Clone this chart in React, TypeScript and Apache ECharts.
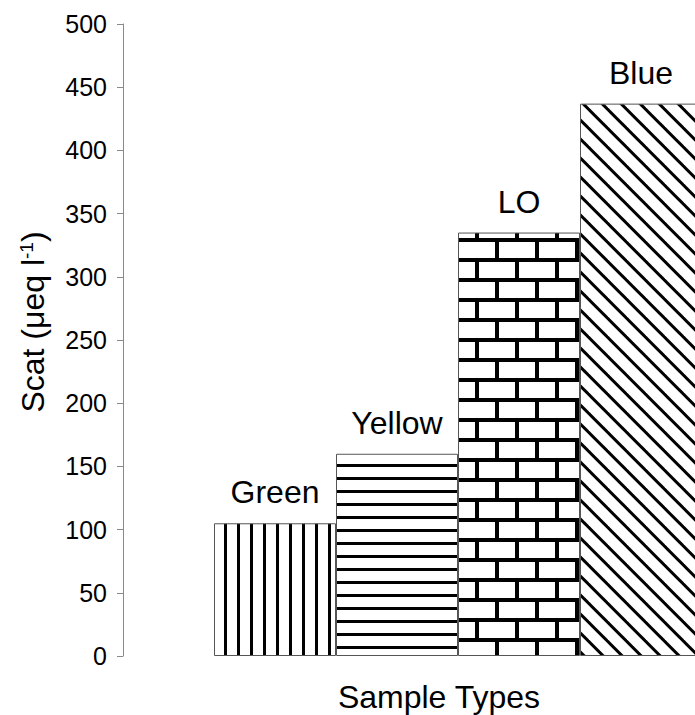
import React, { useEffect, useRef } from 'react';
import * as echarts from 'echarts';

const categories = ['Green', 'Yellow', 'LO', 'Blue'];
const values = [105, 160, 335, 437];
const yMin = 0;
const yMax = 500;
const yInterval = 50;
const xTitle = 'Sample Types';
const yTitleMain = 'Scat (μeq l';
const yTitleSup = '-1';
const yTitleEnd = ')';

const FONT = "'Liberation Sans', Arial, sans-serif";

type Drawer = (ctx: CanvasRenderingContext2D) => void;

function makeTile(w: number, h: number, draw: Drawer) {
  const c = document.createElement('canvas');
  c.width = w;
  c.height = h;
  const ctx = c.getContext('2d')!;
  ctx.fillStyle = '#fff';
  ctx.fillRect(0, 0, w, h);
  ctx.fillStyle = '#000';
  ctx.strokeStyle = '#000';
  draw(ctx);
  return { image: c.toDataURL(), repeat: 'repeat', imageWidth: w, imageHeight: h };
}

function buildPatterns() {
  const vertical = makeTile(13, 13, (ctx) => {
    ctx.fillRect(3, 0, 3, 13);
  });
  const horizontal = makeTile(13, 13, (ctx) => {
    ctx.fillRect(0, 9, 13, 3);
  });
  const brick = makeTile(40, 40, (ctx) => {
    ctx.fillRect(0, 0, 40, 2);
    ctx.fillRect(0, 38, 40, 2);
    ctx.fillRect(0, 18, 40, 4);
    ctx.fillRect(15, 0, 4, 20);
    ctx.fillRect(35, 20, 4, 20);
  });
  const diagonal = makeTile(19, 19, (ctx) => {
    ctx.lineWidth = 3;
    for (let k = -2; k <= 2; k++) {
      const off = 4.3 + 19 * k;
      ctx.beginPath();
      ctx.moveTo(off - 6, -6);
      ctx.lineTo(off + 25, 25);
      ctx.stroke();
    }
  });
  return [vertical, horizontal, brick, diagonal];
}

export default function App() {
  const ref = useRef<HTMLDivElement>(null);

  useEffect(() => {
    if (!ref.current) return;
    const chart = echarts.init(ref.current, undefined, { renderer: 'svg' });
    const patterns = buildPatterns();

    const option: any = {
      animation: false,
      backgroundColor: '#fff',
      grid: {
        left: 214,
        top: 24,
        width: 488,
        height: 632,
        containLabel: false,
        outerBoundsMode: 'none',
      },
      xAxis: {
        type: 'category',
        data: categories,
        axisLine: { show: false },
        axisTick: { show: false },
        axisLabel: { show: false },
        splitLine: { show: false },
      },
      yAxis: {
        type: 'value',
        min: yMin,
        max: yMax,
        interval: yInterval,
        offset: 91,
        axisLine: { show: true, lineStyle: { color: '#8a8a8a', width: 1 } },
        axisTick: { show: true, inside: false, length: 6, lineStyle: { color: '#8a8a8a', width: 1 } },
        axisLabel: { color: '#000', fontSize: 25, fontFamily: FONT, margin: 16 },
        splitLine: { show: false },
      },
      series: [
        {
          type: 'bar',
          barCategoryGap: '0%',
          barWidth: '100%',
          data: values.map((v, i) => ({
            value: v,
            itemStyle: {
              color: patterns[i],
              borderColor: '#555',
              borderWidth: 1,
            },
          })),
          label: {
            show: true,
            position: 'top',
            distance: 15,
            formatter: '{b}',
            color: '#000',
            fontSize: 32,
            fontFamily: FONT,
          },
        },
      ],
      graphic: [
        {
          type: 'text',
          x: 439,
          y: 697,
          style: {
            text: xTitle,
            fontSize: 32,
            fontFamily: FONT,
            fill: '#000',
            align: 'center',
            verticalAlign: 'middle',
            textAlign: 'center',
            textVerticalAlign: 'middle',
          },
        },
        {
          type: 'text',
          x: 33,
          y: 322,
          rotation: Math.PI / 2,
          style: {
            text: `{a|${yTitleMain}}{s|${yTitleSup}}{a|${yTitleEnd}}`,
            fontSize: 32,
            fontFamily: FONT,
            fill: '#000',
            align: 'center',
            verticalAlign: 'middle',
            textAlign: 'center',
            textVerticalAlign: 'middle',
            rich: {
              a: { fontSize: 32, fontFamily: FONT, fill: '#000', color: '#000' },
              s: { fontSize: 19, fontFamily: FONT, fill: '#000', color: '#000', verticalAlign: 'top' },
            },
          },
        },
      ],
    };

    chart.setOption(option);
    return () => {
      chart.dispose();
    };
  }, []);

  return (
    <div
      ref={ref}
      style={{ position: 'fixed', left: 0, top: 0, width: 695, height: 715, background: '#fff' }}
    />
  );
}
